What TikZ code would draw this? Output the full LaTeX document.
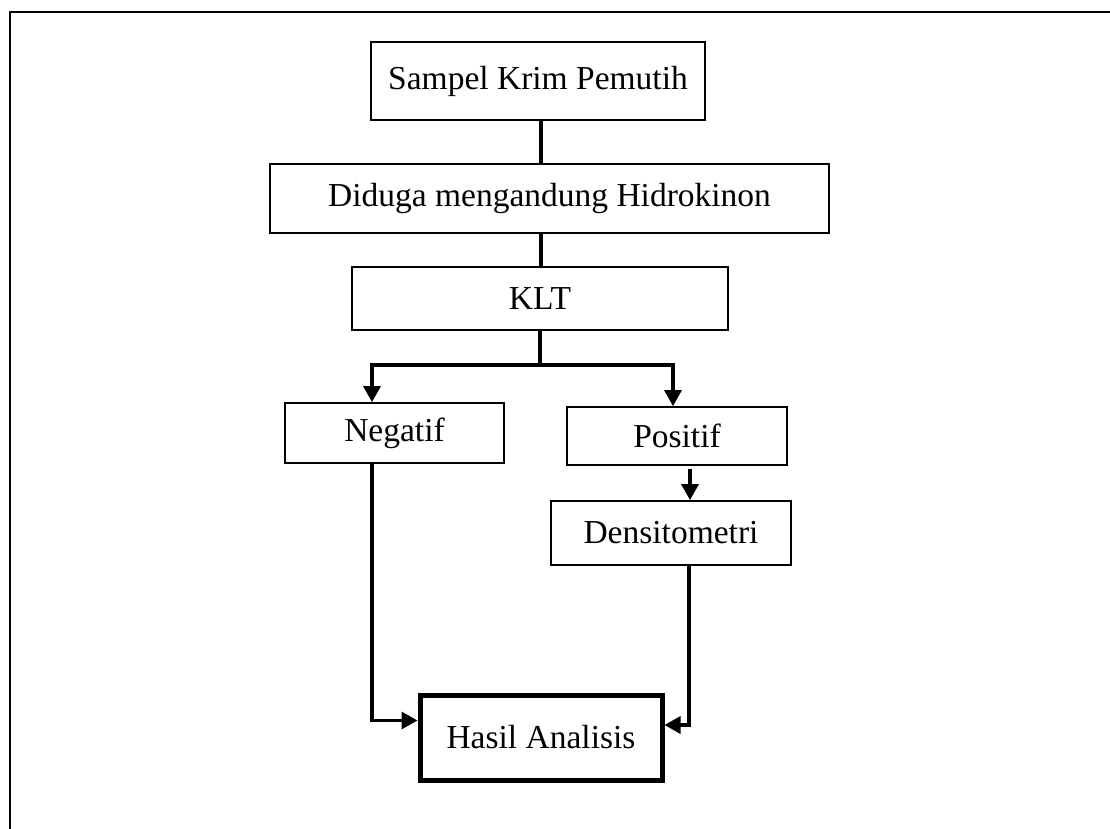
\documentclass[tikz,border=0pt]{standalone}
\usepackage{fontspec}
\setmainfont{Liberation Serif}
\usetikzlibrary{arrows.meta}
\begin{document}
\begin{tikzpicture}[x=1pt,y=-1pt,
  box/.style={draw, line width=1.8pt, inner sep=0pt, font=\fontsize{33.5}{40}\selectfont},
  conn/.style={line width=3.4pt},
  tip/.tip={Triangle[length=16pt,width=17pt]},
  arr/.style={conn, -tip}]
\useasboundingbox (0,0) rectangle (1110,828);
\clip (0,0) rectangle (1110,828);
\draw[line width=2.2pt] (10,860) -- (10,12) -- (1130,12);

\node[box, minimum width=334pt, minimum height=78pt] (s) at (538,81) {Sampel Krim Pemutih};
\node[box, minimum width=559pt, minimum height=69pt] (d) at (549.5,198.5) {Diduga mengandung Hidrokinon};
\node[box, minimum width=376pt, minimum height=63pt] (k) at (540,298.5) {KLT};
\node[box, minimum width=219pt, minimum height=60pt] (n) at (394.5,433) {Negatif};
\node[box, minimum width=220pt, minimum height=58pt] (p) at (677,436) {Positif};
\node[box, minimum width=240pt, minimum height=64pt] (dn) at (671,533) {Densitometri};
\node[box, line width=5pt, minimum width=242pt, minimum height=85pt] (h) at (541,737.5) {Hasil Analisis};

\draw[conn] ([xshift=3pt]s.south) -- ([xshift=3pt]s.south |- d.north);
\draw[conn] ([xshift=-8.5pt]d.south) -- ([xshift=-8.5pt]d.south |- k.north);
\coordinate (j) at ([yshift=-34pt]k.south);
\draw[conn, tip-tip] ([xshift=-22.5pt]n.north) |- (j) -| ([xshift=-4pt]p.north);
\draw[conn] (k.south) -- (j);
\draw[arr] ([xshift=13pt,yshift=-3pt]p.south) -- ([xshift=13pt]p.south |- dn.north);
\draw[arr] ([xshift=-22.5pt]n.south) |- ([yshift=17pt]h.west);
\draw[arr] ([xshift=18pt]dn.south) |- ([yshift=12.5pt]h.east);
\end{tikzpicture}
\end{document}
